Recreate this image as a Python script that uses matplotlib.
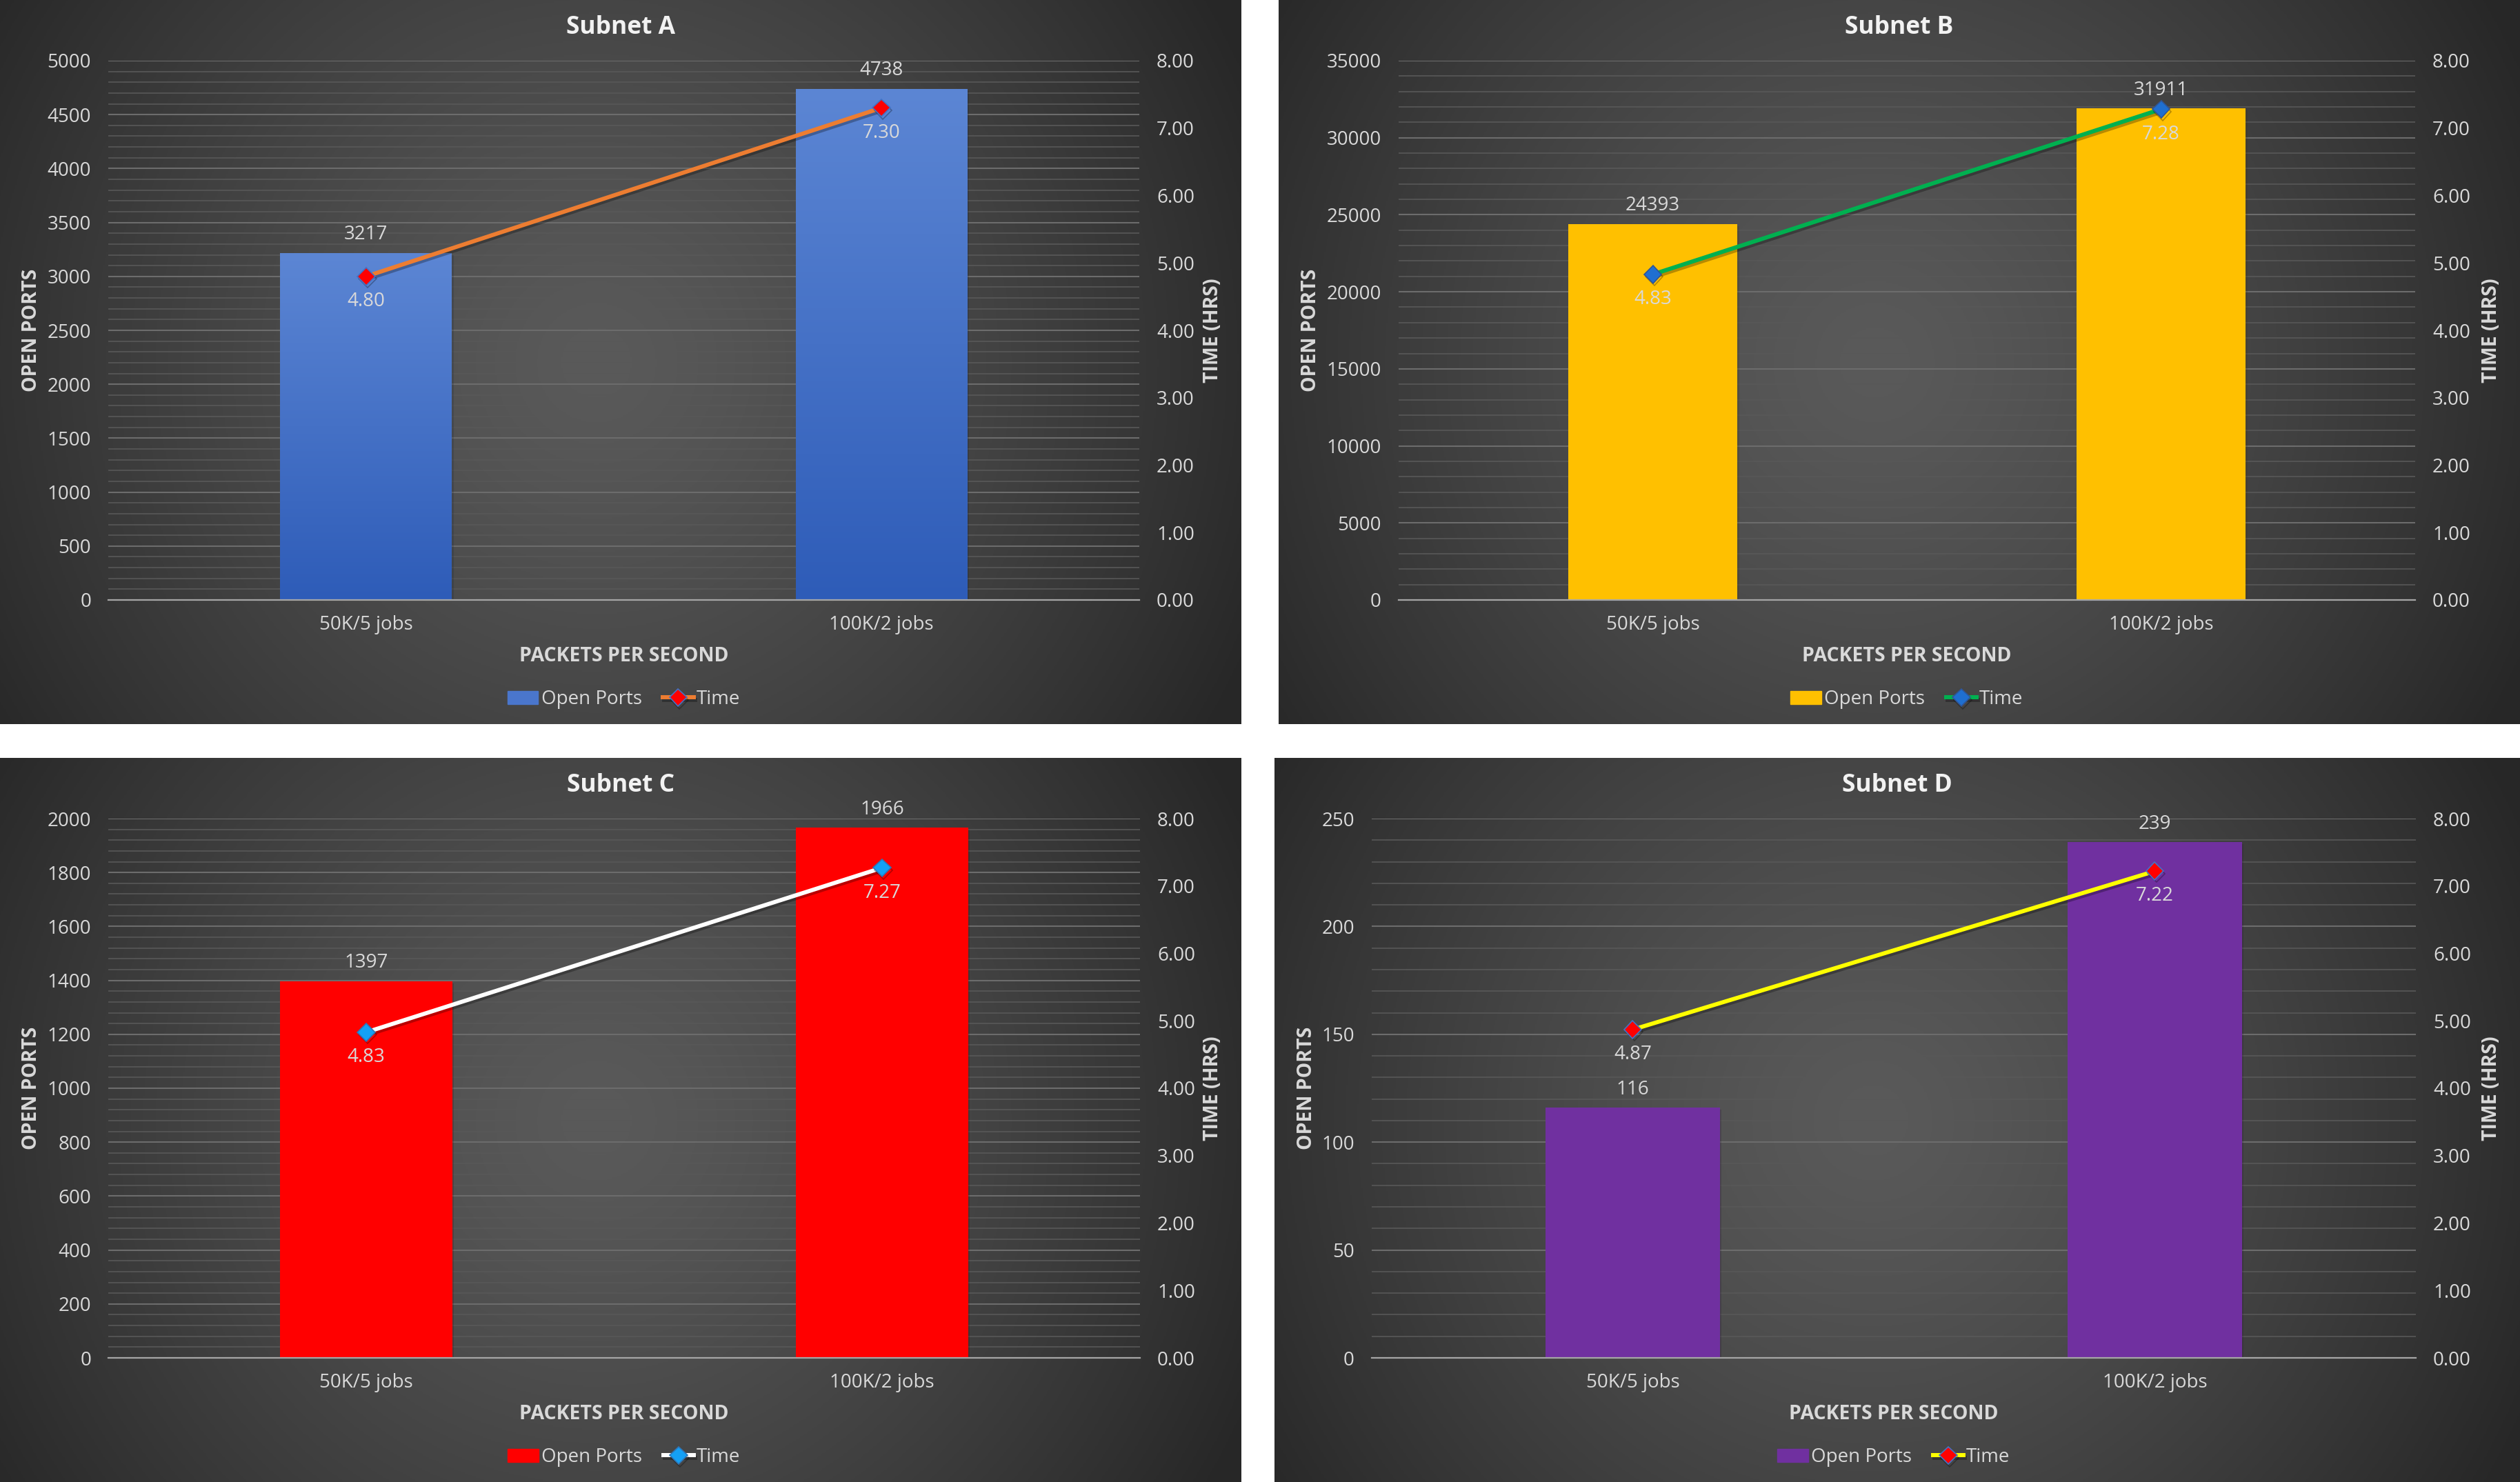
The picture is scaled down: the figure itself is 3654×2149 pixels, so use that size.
import numpy as np
import matplotlib
matplotlib.use("Agg")
import matplotlib.pyplot as plt
import matplotlib.patheffects as pe
from matplotlib.ticker import MultipleLocator, FormatStrFormatter

plt.rcParams['font.family'] = ['Open Sans', 'DejaVu Sans']

# data
categories = ['50K/5 jobs', '100K/2 jobs']
subnet_names = ['Subnet A', 'Subnet B', 'Subnet C', 'Subnet D']
open_ports_a = [3217, 4738]
time_a = [4.80, 7.30]
open_ports_b = [24393, 31911]
time_b = [4.83, 7.28]
open_ports_c = [1397, 1966]
time_c = [4.83, 7.27]
open_ports_d = [116, 239]
time_d = [4.87, 7.22]
ports_axis_max = [5000, 35000, 2000, 250]
ports_axis_step = [500, 5000, 200, 50]
ports_axis_minor = [100, 1000, 40, 10]
time_axis_max = 8
time_axis_step = 1

W, H = 3654, 2149
fig = plt.figure(figsize=(W / 100, H / 100), dpi=100, facecolor='white')

# panel frames and plot areas in pixels (x, y from top-left)
panels = [
    dict(box=(0, 0, 1800, 1050), plot=(157, 88, 1652, 870),
         bar='#4472c4', gradient=('#5c86d4', '#2e5cb8'), line='#ed7d31',
         mface='#ff0000', medge='#4472c4'),
    dict(box=(1854, 0, 1800, 1050), plot=(174, 88, 1648, 870),
         bar='#ffc000', gradient=None, line='#00b050',
         mface='#1f6fd0', medge='#2f5597'),
    dict(box=(0, 1099, 1800, 1050), plot=(157, 88, 1653, 870),
         bar='#ff0000', gradient=None, line='#ffffff',
         mface='#14a0f5', medge='#2e75b6'),
    dict(box=(1848, 1099, 1806, 1050), plot=(141, 88, 1655, 870),
         bar='#7030a0', gradient=None, line='#ffff00',
         mface='#ff0000', medge='#4472c4'),
]
ports_list = [open_ports_a, open_ports_b, open_ports_c, open_ports_d]
time_list = [time_a, time_b, time_c, time_d]

txt = '#d9d9d9'
fs = 20


def frac(px, py, pw, ph):
    return [px / W, 1 - (py + ph) / H, pw / W, ph / H]


def to_fig(px, py):
    return px / W, 1 - py / H


for i, p in enumerate(panels):
    bx, by, bw, bh = p['box']
    # panel background with radial shading
    bg = fig.add_axes(frac(bx, by, bw, bh), zorder=0)
    yy, xx = np.mgrid[0:bh:2, 0:bw:2]
    d = np.hypot(xx - bw * 0.48, yy - bh * 0.5) / np.hypot(bw / 2, bh / 2)
    shade = (0x5a - (0x5a - 0x27) * np.clip(d, 0, 1) ** 1.3) / 255.0
    bg.imshow(np.dstack([shade] * 3), extent=[0, 1, 0, 1], aspect='auto')
    bg.set_axis_off()

    l, t, r, b = p['plot']
    ax = fig.add_axes(frac(bx + l, by + t, r - l, b - t), zorder=1)
    ax.patch.set_visible(False)
    x = np.arange(len(categories))
    ports = ports_list[i]
    times = time_list[i]

    bars = ax.bar(x, ports, width=0.333, color=p['bar'], zorder=2,
                  path_effects=[pe.SimplePatchShadow(offset=(2, -2), alpha=0.2), pe.Normal()])
    if p['gradient']:
        c0 = np.array(matplotlib.colors.to_rgb(p['gradient'][0]))
        c1 = np.array(matplotlib.colors.to_rgb(p['gradient'][1]))
        g = np.linspace(0, 1, 256)[:, None, None]
        grad = c0 * (1 - g) + c1 * g
        for bar in bars:
            bx0, bw0, bh0 = bar.get_x(), bar.get_width(), bar.get_height()
            im = ax.imshow(grad, extent=[bx0, bx0 + bw0, 0, bh0], aspect='auto', zorder=2.1)
            im.set_clip_path(bar)
    for xi, v in zip(x, ports):
        ax.annotate(f'{v}', (xi, v), xytext=(0, 9), textcoords='offset points',
                    ha='center', va='bottom', fontsize=fs, color=txt)

    ax.set_xlim(-0.5, len(categories) - 0.5)
    ax.set_ylim(0, ports_axis_max[i])
    ax.yaxis.set_major_locator(MultipleLocator(ports_axis_step[i]))
    ax.yaxis.set_minor_locator(MultipleLocator(ports_axis_minor[i]))
    ax.grid(which='minor', axis='y', color='#585858', lw=1.2, zorder=0)
    ax.grid(which='major', axis='y', color='#6c6c6c', lw=1.5, zorder=0)
    ax.set_axisbelow(True)
    ax.set_xticks(x)
    ax.set_xticklabels(categories)
    ax.tick_params(axis='x', length=0, pad=16, labelsize=fs, labelcolor=txt)
    ax.tick_params(axis='y', which='both', length=0, pad=18, labelsize=fs, labelcolor=txt)
    for s in ['top', 'left', 'right']:
        ax.spines[s].set_visible(False)
    ax.spines['bottom'].set_color('#a6a6a6')
    ax.spines['bottom'].set_linewidth(1.6)
    ax.spines['bottom'].set_zorder(3)

    ax2 = ax.twinx()
    ax2.patch.set_visible(False)
    line, = ax2.plot(x, times, color=p['line'], lw=4.3, marker='D', markersize=13,
                     markerfacecolor=p['mface'], markeredgecolor=p['medge'], markeredgewidth=1.2,
                     zorder=4,
                     path_effects=[pe.SimpleLineShadow(offset=(1.5, -2.5), alpha=0.28), pe.Normal()])
    for xi, v in zip(x, times):
        ax2.annotate(f'{v:.2f}', (xi, v), xytext=(0, -16), textcoords='offset points',
                     ha='center', va='top', fontsize=fs, color=txt)
    ax2.set_ylim(0, time_axis_max)
    ax2.yaxis.set_major_locator(MultipleLocator(time_axis_step))
    ax2.yaxis.set_major_formatter(FormatStrFormatter('%.2f'))
    ax2.tick_params(axis='y', length=0, pad=18, labelsize=fs, labelcolor=txt)
    for s in ax2.spines.values():
        s.set_visible(False)

    cx = bx + (l + r) / 2
    # title and axis titles
    fig.text(*to_fig(bx + bw / 2, by + 40), subnet_names[i], ha='center', va='center',
             fontsize=25.5, fontweight='bold', color='#f2f2f2')
    fig.text(*to_fig(cx, by + 951), 'PACKETS PER SECOND', ha='center', va='center',
             fontsize=20.5, fontweight='bold', color=txt)
    fig.text(*to_fig(bx + 46, by + (t + b) / 2), 'OPEN PORTS', ha='center', va='center',
             rotation=90, fontsize=20.5, fontweight='bold', color=txt)
    fig.text(*to_fig(bx + bw - 42, by + (t + b) / 2), 'TIME (HRS)', ha='center', va='center',
             rotation=90, fontsize=20.5, fontweight='bold', color=txt)

    leg_color = '#4a76cc' if p['gradient'] else p['bar']
    handle_bar = matplotlib.patches.Patch(color=leg_color)
    ax2.legend([handle_bar, line], ['Open Ports', 'Time'], loc='center',
               bbox_to_anchor=to_fig(cx, by + 1014), bbox_transform=fig.transFigure,
               ncol=2, frameon=False, fontsize=fs, handlelength=1.6, handleheight=0.65,
               handletextpad=0.15, columnspacing=1.1, labelcolor=txt)

fig.savefig('out.png', dpi=100, facecolor='white')
